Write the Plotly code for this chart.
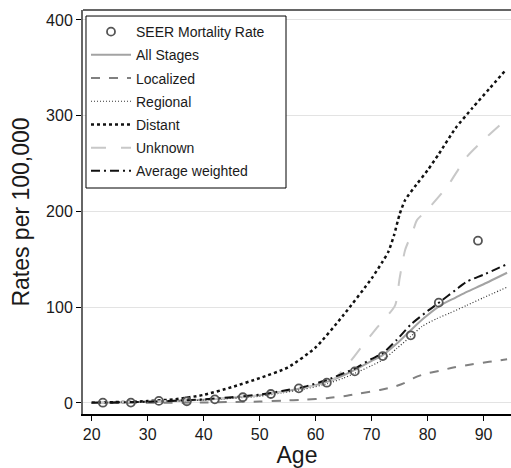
import plotly.graph_objects as go

# Observed SEER mortality (per 100,000) by age
seer_age = [22, 27, 32, 37, 42, 47, 52, 57, 62, 67, 72, 77, 82, 89]
seer_rate = [0.3, 0.4, 2.2, 1.8, 3.8, 6.0, 9.4, 15.3, 21.2, 33.0, 49.0, 70.7, 104.8, 169.5]

# Modelled rates by stage
all_age = [20, 30, 40, 45, 50, 54, 58, 62, 65, 67, 70, 72, 74.5, 77, 79.3, 82.3, 85, 87, 90, 94.2]
all_rate = [0.2, 1.2, 3.5, 5.5, 8.0, 11.8, 16.0, 22.0, 29.0, 34.5, 44.0, 50.0, 62.0, 76.0, 88.4, 102.0, 110.0, 116.0, 124.0, 136.0]

loc_age = [20, 30, 40, 45, 50, 54, 58, 62, 65.6, 68, 71.5, 74, 75.7, 77.5, 79.3, 82, 84.6, 88, 91, 94.2]
loc_rate = [0.0, 0.2, 0.5, 1.0, 1.5, 2.4, 3.5, 5.0, 7.6, 10.0, 13.6, 17.0, 20.5, 26.0, 30.0, 33.5, 37.0, 40.5, 43.0, 45.6]

reg_age = [20, 30, 40, 45, 50, 54, 58, 62, 65, 67, 70, 72, 74.5, 76.9, 79, 81.6, 84, 87, 90, 94.2]
reg_rate = [0.2, 1.0, 3.0, 4.8, 7.0, 10.5, 14.5, 20.0, 26.0, 31.0, 39.0, 45.0, 57.0, 69.0, 80.0, 88.0, 94.0, 102.0, 110.0, 121.0]

dist_age = [20, 25, 30, 35, 40, 45, 50, 55, 60, 65, 70, 72, 73, 74, 75, 76, 78, 80, 82, 85, 88, 91, 94]
dist_rate = [0.5, 1.0, 2.0, 4.0, 8.5, 16.5, 26.0, 37.0, 58.0, 92.0, 130.0, 148.0, 158.0, 175.0, 197.0, 212.0, 228.0, 243.0, 260.0, 287.0, 308.0, 328.0, 348.0]

unk_age = [20, 30, 40, 45, 50, 55, 60, 62, 63.5, 66, 68, 71, 74.2, 75, 76, 77.4, 78.1, 80, 83.5, 87, 90.6, 94.2]
unk_rate = [0.3, 1.5, 3.5, 5.5, 8.0, 12.5, 18.5, 22.0, 26.0, 42.0, 57.0, 79.0, 102.0, 130.0, 160.0, 180.0, 191.0, 202.0, 226.0, 257.0, 278.0, 297.0]

avg_age = [20, 30, 40, 45, 50, 54, 58, 62, 65, 67, 70, 72, 74.5, 77, 80, 82.3, 85, 87, 90, 94.2]
avg_rate = [0.3, 1.3, 3.8, 6.0, 8.8, 12.5, 17.0, 24.0, 31.0, 36.0, 46.0, 52.0, 66.0, 82.0, 96.0, 106.0, 118.0, 126.7, 134.0, 145.0]

fig = go.Figure()

lines = [
    ("All Stages", all_age, all_rate, dict(color="#a3a3a3", width=2, dash="solid")),
    ("Localized", loc_age, loc_rate, dict(color="#808080", width=2, dash="dash")),
    ("Regional", reg_age, reg_rate, dict(color="#333333", width=1.2, dash="1px,2px")),
    ("Distant", dist_age, dist_rate, dict(color="#111111", width=2.5, dash="dot")),
    ("Unknown", unk_age, unk_rate, dict(color="#c8c8c8", width=2, dash="longdash")),
    ("Average weighted", avg_age, avg_rate, dict(color="#111111", width=2, dash="9px,4px,2px,4px")),
]
for i, (name, xs, ys, ln) in enumerate(lines):
    fig.add_trace(go.Scatter(
        x=xs, y=ys, mode="lines", name=name, line=dict(shape="spline", smoothing=0.6, **ln),
        legendgroup=name, legendrank=i + 2,
    ))

fig.add_trace(go.Scatter(
    x=seer_age, y=seer_rate, mode="markers", name="SEER Mortality Rate",
    marker=dict(symbol="circle-open", size=8, color="#555555", line=dict(width=1.8)),
    legendgroup="seer", legendrank=1,
))

fig.update_layout(
    width=511, height=468,
    margin=dict(l=83, r=0, t=10, b=54),
    paper_bgcolor="white", plot_bgcolor="white",
    font=dict(family="Liberation Sans, Arial, sans-serif", color="#1a1a1a"),
    legend=dict(
        x=0.007, y=0.985, xanchor="left", yanchor="top",
        bgcolor="rgba(0,0,0,0)", borderwidth=0,
        font=dict(size=14, color="#1a1a1a"), tracegroupgap=2,
        itemwidth=40,
    ),
    xaxis=dict(
        range=[18.45, 94.9], tickvals=[20, 30, 40, 50, 60, 70, 80, 90],
        ticks="outside", ticklen=5, tickcolor="black", tickwidth=1,
        showline=True, linecolor="black", linewidth=2, showgrid=False, zeroline=False,
        tickfont=dict(size=16),
        title=dict(text="Age", font=dict(size=23), standoff=3),
    ),
    yaxis=dict(
        range=[-11.5, 410.4], tickvals=[0, 100, 200, 300, 400],
        ticks="outside", ticklen=5, tickcolor="black", tickwidth=1,
        showline=True, linecolor="#666666", linewidth=2,
        showgrid=True, gridcolor="#e3e3e3", gridwidth=1, zeroline=False,
        tickfont=dict(size=16),
        title=dict(text="Rates per 100,000", font=dict(size=23), standoff=10),
    ),
)

# Frame line along the top of the plotting area
fig.add_shape(type="line", xref="paper", yref="paper", x0=0, x1=1, y0=1, y1=1,
              line=dict(color="#666666", width=2))
# Boxed background behind the legend entries
fig.add_shape(type="rect", xref="paper", yref="paper", layer="above",
              x0=0.007, x1=0.4743, y0=0.5594, y1=0.9851,
              fillcolor="white", line=dict(color="black", width=1))

fig.write_html("out.html")
